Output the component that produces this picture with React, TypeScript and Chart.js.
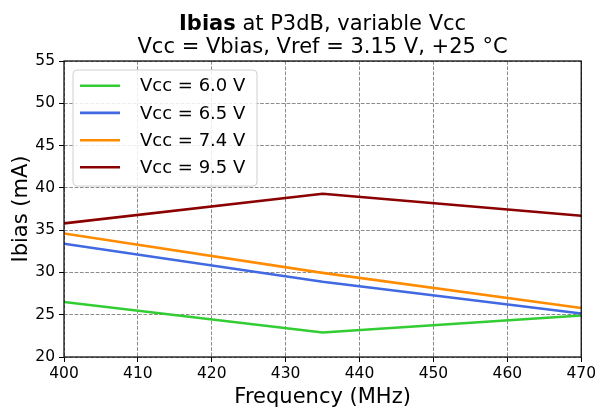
import React, { useEffect, useRef } from "react";
import { Chart, registerables } from "chart.js";

Chart.register(...registerables);

const frequencies = [400, 435, 470];
const vcc60 = [26.5, 22.9, 24.9];
const vcc65 = [33.4, 28.9, 25.15];
const vcc74 = [34.6, 29.95, 25.8];
const vcc95 = [35.8, 39.3, 36.7];
const seriesLabels = ["Vcc = 6.0 V", "Vcc = 6.5 V", "Vcc = 7.4 V", "Vcc = 9.5 V"];
const seriesColors = ["#32CD32", "#4169E1", "#FF8C00", "#8B0000"];
const titleBold = "Ibias";
const titleRest = " at P3dB, variable Vcc";
const titleLine2 = "Vcc = Vbias, Vref = 3.15 V, +25 °C";
const xTitle = "Frequency (MHz)";
const yTitle = "Ibias (mA)";

const FONT = "'DejaVu Sans', sans-serif";

const decorPlugin = {
  id: "decor",
  afterDatasetsDraw(chart: any) {
    const { ctx, chartArea } = chart;
    const { left, right, top, bottom } = chartArea;
    ctx.save();
    // frame
    ctx.strokeStyle = "#000";
    ctx.lineWidth = 1.2;
    ctx.setLineDash([]);
    ctx.strokeRect(left, top, right - left, bottom - top);

    // legend
    const lx = 73, ly = 70, lw = 184, lh = 116, r = 4;
    ctx.beginPath();
    ctx.moveTo(lx + r, ly);
    ctx.lineTo(lx + lw - r, ly);
    ctx.quadraticCurveTo(lx + lw, ly, lx + lw, ly + r);
    ctx.lineTo(lx + lw, ly + lh - r);
    ctx.quadraticCurveTo(lx + lw, ly + lh, lx + lw - r, ly + lh);
    ctx.lineTo(lx + r, ly + lh);
    ctx.quadraticCurveTo(lx, ly + lh, lx, ly + lh - r);
    ctx.lineTo(lx, ly + r);
    ctx.quadraticCurveTo(lx, ly, lx + r, ly);
    ctx.closePath();
    ctx.fillStyle = "rgba(255,255,255,0.85)";
    ctx.fill();
    ctx.strokeStyle = "#d0d0d0";
    ctx.lineWidth = 1;
    ctx.stroke();

    const rowY = [85.7, 112.9, 140.2, 167.3];
    ctx.font = `18px ${FONT}`;
    ctx.textBaseline = "middle";
    ctx.textAlign = "left";
    seriesLabels.forEach((lab, i) => {
      ctx.strokeStyle = seriesColors[i];
      ctx.lineWidth = 2.6;
      ctx.beginPath();
      ctx.moveTo(80, rowY[i]);
      ctx.lineTo(120, rowY[i]);
      ctx.stroke();
      ctx.fillStyle = "#000";
      ctx.fillText(lab, 140, rowY[i] + 1);
    });

    // titles
    const cx = (left + right) / 2;
    ctx.fillStyle = "#000";
    ctx.textBaseline = "alphabetic";
    ctx.font = `bold 21px ${FONT}`;
    const wb = ctx.measureText(titleBold).width;
    ctx.font = `21px ${FONT}`;
    const wr = ctx.measureText(titleRest).width;
    const sx = cx - (wb + wr) / 2;
    ctx.font = `bold 21px ${FONT}`;
    ctx.fillText(titleBold, sx, 30);
    ctx.font = `21px ${FONT}`;
    ctx.fillText(titleRest, sx + wb, 30);
    ctx.textAlign = "center";
    ctx.fillText(titleLine2, cx, 53);

    // axis titles
    ctx.font = `21px ${FONT}`;
    ctx.fillText(xTitle, cx, 403);
    ctx.save();
    ctx.translate(27, (top + bottom) / 2);
    ctx.rotate(-Math.PI / 2);
    ctx.fillText(yTitle, 0, 0);
    ctx.restore();
    ctx.restore();
  },
};

export default function App() {
  const ref = useRef<HTMLCanvasElement>(null);
  useEffect(() => {
    if (!ref.current) return;
    const seriesValues = [vcc60, vcc65, vcc74, vcc95];
    const chart = new Chart(ref.current, {
      type: "line",
      data: {
        datasets: seriesValues.map((vals, i) => ({
          label: seriesLabels[i],
          data: frequencies.map((f, j) => ({ x: f, y: vals[j] })),
          borderColor: seriesColors[i],
          backgroundColor: seriesColors[i],
          borderWidth: 2.6,
          pointRadius: 0,
          tension: 0,
          fill: false,
          order: 3 - i,
        })),
      },
      options: {
        responsive: false,
        animation: false,
        devicePixelRatio: 1,
        layout: { padding: { top: 61, right: 17, left: 0, bottom: 0 } },
        plugins: { legend: { display: false }, title: { display: false }, tooltip: { enabled: false } },
        scales: {
          x: {
            type: "linear",
            min: 400,
            max: 470,
            ticks: { stepSize: 10, color: "#000", font: { family: FONT, size: 15.5 }, padding: 3, maxRotation: 0 },
            grid: { color: "rgba(128,128,128,0.9)", lineWidth: 1, tickColor: "#000", tickLength: 5, tickBorderDash: [] },
            border: { display: false, dash: [3.7, 1.6] },
            afterFit: (s: any) => { s.height = 52; },
          },
          y: {
            type: "linear",
            min: 20,
            max: 55,
            ticks: { stepSize: 5, color: "#000", font: { family: FONT, size: 15.5 }, padding: 4 },
            grid: { color: "rgba(128,128,128,0.9)", lineWidth: 1, tickColor: "#000", tickLength: 5, tickBorderDash: [] },
            border: { display: false, dash: [3.7, 1.6] },
            afterFit: (s: any) => { s.width = 64; },
          },
        },
      },
      plugins: [decorPlugin],
    });
    return () => chart.destroy();
  }, []);
  return (
    <div style={{ position: "fixed", left: 0, top: 0, width: 599, height: 409, background: "#fff" }}>
      <canvas ref={ref} width={599} height={409} />
    </div>
  );
}
